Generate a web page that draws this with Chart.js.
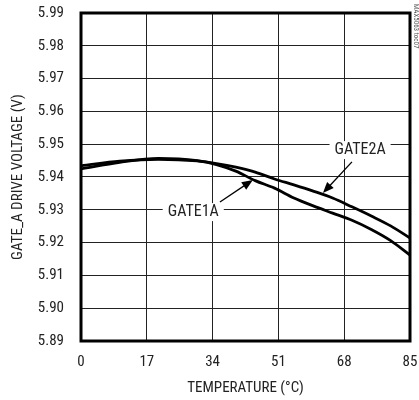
<!DOCTYPE html>
<html>
<head>
<meta charset="utf-8">
<script src="https://cdn.jsdelivr.net/npm/chart.js@4/dist/chart.umd.min.js"></script>
<style>
  body { margin: 0; background: #fff; }
  canvas { display: block; }
</style>
</head>
<body>
<canvas id="grafico" width="419" height="400"></canvas>
<script>
// valores
const temperaturas = [0, 10, 20, 30, 35, 40, 45, 50, 55, 60, 65, 70, 75, 80, 85];
const gate1a = [5.9425, 5.9445, 5.9457, 5.9450, 5.9438, 5.9418, 5.9389, 5.9366, 5.9336, 5.9312, 5.9290, 5.9268, 5.9240, 5.9206, 5.9162];
const gate2a = [5.9434, 5.9448, 5.9454, 5.9449, 5.9441, 5.9430, 5.9415, 5.9394, 5.9376, 5.9357, 5.9336, 5.9309, 5.9281, 5.9251, 5.9214];
const xTicks = [0, 17, 34, 51, 68, 85];
const yTicks = [5.89, 5.90, 5.91, 5.92, 5.93, 5.94, 5.95, 5.96, 5.97, 5.98, 5.99];

// rótulos com seta (coordenadas em unidades do gráfico)
const rotulos = [
    { texto: 'GATE1A', x: 29, y: 5.9293, de: [35.9, 5.9324], para: [44.4, 5.9391] },
    { texto: 'GATE2A', x: 72.1, y: 5.9482, de: [70.0, 5.9446], para: [62.5, 5.9351] }
];

const fonte = "'Liberation Sans Narrow', 'Roboto Condensed', 'Arial Narrow', sans-serif";

const pluginRotulos = {
    id: 'rotulos',
    afterDatasetsDraw(chart) {
        const { ctx, scales: { x, y }, chartArea } = chart;
        ctx.save();
        ctx.font = `16px ${fonte}`;
        ctx.textAlign = 'center';
        ctx.textBaseline = 'middle';
        rotulos.forEach(r => {
            const px = x.getPixelForValue(r.x);
            const py = y.getPixelForValue(r.y);
            const w = ctx.measureText(r.texto).width;
            ctx.fillStyle = '#fff';
            ctx.fillRect(px - w / 2 - 5, py - 9, w + 10, 18);
            ctx.fillStyle = '#222';
            ctx.fillText(r.texto, px, py);

            // seta
            const x1 = x.getPixelForValue(r.de[0]), y1 = y.getPixelForValue(r.de[1]);
            const x2 = x.getPixelForValue(r.para[0]), y2 = y.getPixelForValue(r.para[1]);
            const ang = Math.atan2(y2 - y1, x2 - x1);
            ctx.strokeStyle = '#000';
            ctx.lineWidth = 1.3;
            ctx.beginPath();
            ctx.moveTo(x1, y1);
            ctx.lineTo(x2 - 8 * Math.cos(ang), y2 - 8 * Math.sin(ang));
            ctx.stroke();
            ctx.fillStyle = '#000';
            ctx.beginPath();
            ctx.moveTo(x2, y2);
            ctx.lineTo(x2 - 11 * Math.cos(ang) + 4.5 * Math.sin(ang), y2 - 11 * Math.sin(ang) - 4.5 * Math.cos(ang));
            ctx.lineTo(x2 - 11 * Math.cos(ang) - 4.5 * Math.sin(ang), y2 - 11 * Math.sin(ang) + 4.5 * Math.cos(ang));
            ctx.closePath();
            ctx.fill();
        });

        // moldura grossa
        ctx.strokeStyle = '#000';
        ctx.lineWidth = 3;
        ctx.strokeRect(chartArea.left, chartArea.top, chartArea.right - chartArea.left, chartArea.bottom - chartArea.top);

        // marca d'água vertical
        ctx.translate(412, 4);
        ctx.rotate(Math.PI / 2);
        ctx.font = `7px ${fonte}`;
        ctx.fillStyle = '#555';
        ctx.textAlign = 'left';
        ctx.textBaseline = 'bottom';
        ctx.fillText('MAX5063 toc07', 0, 0);
        ctx.restore();
    }
};

const ctx = document.getElementById('grafico').getContext('2d');
const grafico = new Chart(ctx, {
    type: 'line',
    data: {
        datasets: [
            {
                label: 'GATE1A',
                data: temperaturas.map((t, i) => ({ x: t, y: gate1a[i] })),
                borderColor: '#000',
                borderWidth: 2.8,
                pointRadius: 0,
                cubicInterpolationMode: 'monotone',
                fill: false
            },
            {
                label: 'GATE2A',
                data: temperaturas.map((t, i) => ({ x: t, y: gate2a[i] })),
                borderColor: '#000',
                borderWidth: 2.8,
                pointRadius: 0,
                cubicInterpolationMode: 'monotone',
                fill: false
            }
        ]
    },
    options: {
        responsive: false,
        animation: false,
        layout: { padding: { left: 0, top: 13, right: 9, bottom: 0 } },
        plugins: {
            legend: { display: false },
            tooltip: { enabled: false }
        },
        scales: {
            x: {
                type: 'linear',
                min: 0,
                max: 85,
                afterBuildTicks: s => { s.ticks = xTicks.map(v => ({ value: v })); },
                afterFit: s => { s.height = 59; s.paddingLeft = 0; s.paddingRight = 0; },
                grid: { color: '#222', lineWidth: 1, drawTicks: false },
                border: { display: false },
                ticks: {
                    padding: 12,
                    color: '#222',
                    font: { family: fonte, size: 15 }
                },
                title: {
                    display: true,
                    text: 'TEMPERATURE (°C)',
                    color: '#222',
                    font: { family: fonte, size: 15 },
                    padding: { top: 4, bottom: 3 }
                }
            },
            y: {
                min: 5.89,
                max: 5.99,
                afterBuildTicks: s => { s.ticks = yTicks.map(v => ({ value: v })); },
                afterFit: s => { s.width = 81; s.paddingTop = 0; s.paddingBottom = 0; },
                grid: { color: '#222', lineWidth: 1, drawTicks: false },
                border: { display: false },
                ticks: {
                    padding: 17,
                    color: '#222',
                    font: { family: fonte, size: 15 },
                    callback: v => v.toFixed(2)
                },
                title: {
                    display: true,
                    text: 'GATE_A DRIVE VOLTAGE (V)',
                    color: '#222',
                    font: { family: fonte, size: 15 },
                    padding: { top: 9, bottom: 0 }
                }
            }
        }
    },
    plugins: [pluginRotulos]
});
</script>
</body>
</html>
